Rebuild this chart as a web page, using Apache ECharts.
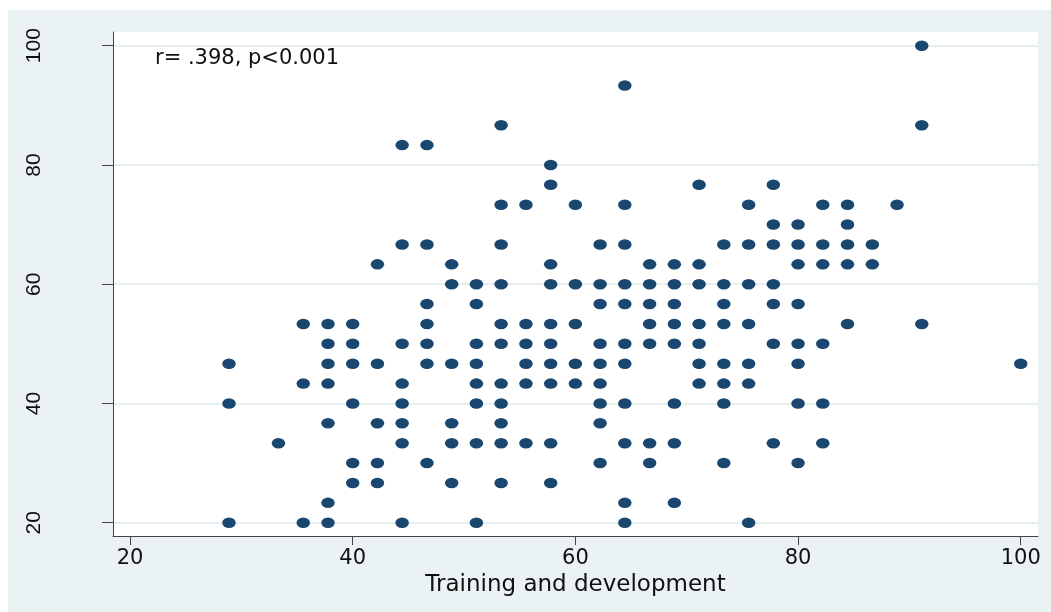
<!DOCTYPE html>
<html>
<head>
<meta charset="utf-8">
<script src="https://cdn.jsdelivr.net/npm/echarts@6/dist/echarts.min.js"></script>
<style>
  html, body { margin: 0; padding: 0; background: #ffffff; }
  #chart { position: absolute; left: 8px; top: 10px; width: 1043px; height: 602px; }
</style>
</head>
<body>
<div id="chart"></div>
<script>
// x: Training and development, y: outcome score (one line per x level)
const training = [
  28.89, 28.89, 28.89,
  33.33,
  35.56, 35.56, 35.56,
  37.78, 37.78, 37.78, 37.78, 37.78, 37.78, 37.78,
  40, 40, 40, 40, 40, 40,
  42.22, 42.22, 42.22, 42.22, 42.22,
  44.44, 44.44, 44.44, 44.44, 44.44, 44.44, 44.44, 44.44,
  46.67, 46.67, 46.67, 46.67, 46.67, 46.67, 46.67,
  48.89, 48.89, 48.89, 48.89, 48.89, 48.89,
  51.11, 51.11, 51.11, 51.11, 51.11, 51.11, 51.11, 51.11,
  53.33, 53.33, 53.33, 53.33, 53.33, 53.33, 53.33, 53.33, 53.33, 53.33, 53.33,
  55.56, 55.56, 55.56, 55.56, 55.56, 55.56,
  57.78, 57.78, 57.78, 57.78, 57.78, 57.78, 57.78, 57.78, 57.78, 57.78,
  60, 60, 60, 60, 60,
  62.22, 62.22, 62.22, 62.22, 62.22, 62.22, 62.22, 62.22, 62.22,
  64.44, 64.44, 64.44, 64.44, 64.44, 64.44, 64.44, 64.44, 64.44, 64.44, 64.44,
  66.67, 66.67, 66.67, 66.67, 66.67, 66.67, 66.67,
  68.89, 68.89, 68.89, 68.89, 68.89, 68.89, 68.89, 68.89,
  71.11, 71.11, 71.11, 71.11, 71.11, 71.11, 71.11,
  73.33, 73.33, 73.33, 73.33, 73.33, 73.33, 73.33, 73.33,
  75.56, 75.56, 75.56, 75.56, 75.56, 75.56, 75.56,
  77.78, 77.78, 77.78, 77.78, 77.78, 77.78, 77.78,
  80, 80, 80, 80, 80, 80, 80, 80,
  82.22, 82.22, 82.22, 82.22, 82.22, 82.22,
  84.44, 84.44, 84.44, 84.44, 84.44,
  86.67, 86.67,
  88.89,
  91.11, 91.11, 91.11,
  100
];
const outcome = [
  46.67, 40, 20,
  33.33,
  53.33, 43.33, 20,
  53.33, 50, 46.67, 43.33, 36.67, 23.33, 20,
  53.33, 50, 46.67, 40, 30, 26.67,
  63.33, 46.67, 36.67, 30, 26.67,
  83.33, 66.67, 50, 43.33, 40, 36.67, 33.33, 20,
  83.33, 66.67, 56.67, 53.33, 50, 46.67, 30,
  63.33, 60, 46.67, 36.67, 33.33, 26.67,
  60, 56.67, 50, 46.67, 43.33, 40, 33.33, 20,
  86.67, 73.33, 66.67, 60, 53.33, 50, 43.33, 40, 36.67, 33.33, 26.67,
  73.33, 53.33, 50, 46.67, 43.33, 33.33,
  80, 76.67, 63.33, 60, 53.33, 50, 46.67, 43.33, 33.33, 26.67,
  73.33, 60, 53.33, 46.67, 43.33,
  66.67, 60, 56.67, 50, 46.67, 43.33, 40, 36.67, 30,
  93.33, 73.33, 66.67, 60, 56.67, 50, 46.67, 40, 33.33, 23.33, 20,
  63.33, 60, 56.67, 53.33, 50, 33.33, 30,
  63.33, 60, 56.67, 53.33, 50, 40, 33.33, 23.33,
  76.67, 63.33, 60, 53.33, 50, 46.67, 43.33,
  66.67, 60, 56.67, 53.33, 46.67, 43.33, 40, 30,
  73.33, 66.67, 60, 53.33, 46.67, 43.33, 20,
  76.67, 70, 66.67, 60, 56.67, 50, 33.33,
  70, 66.67, 63.33, 56.67, 50, 46.67, 40, 30,
  73.33, 66.67, 63.33, 50, 40, 33.33,
  73.33, 70, 66.67, 63.33, 53.33,
  66.67, 63.33,
  73.33,
  100, 86.67, 53.33,
  46.67
];
const xTicks = [20, 40, 60, 80, 100];
const yTicks = [20, 40, 60, 80, 100];
const xTitle = 'Training and development';
const note = 'r= .398, p<0.001';

const points = training.map((x, i) => [x, outcome[i]]);

const chart = echarts.init(document.getElementById('chart'));
chart.setOption({
  backgroundColor: '#EAF2F3',
  animation: false,
  title: {
    text: note,
    left: 147,
    top: 38,
    padding: 0,
    textStyle: { fontFamily: 'DejaVu Sans', fontSize: 21, fontWeight: 'normal', color: '#111' }
  },
  grid: {
    left: 105, top: 22, right: 13, bottom: 76,
    show: true, backgroundColor: '#ffffff', borderWidth: 0
  },
  xAxis: {
    type: 'value',
    min: 18.47, max: 101.55,
    name: xTitle,
    nameLocation: 'middle',
    nameGap: 33,
    nameTextStyle: { fontFamily: 'DejaVu Sans', fontSize: 23, color: '#111' },
    axisLine: { show: true, onZero: false, lineStyle: { color: '#444', width: 1 } },
    axisTick: { show: true, length: 9, customValues: xTicks, lineStyle: { color: '#444' } },
    axisLabel: { customValues: xTicks, margin: 12, fontFamily: 'DejaVu Sans', fontSize: 21, color: '#111' },
    splitLine: { show: false }
  },
  yAxis: {
    type: 'value',
    min: 17.77, max: 102.3,
    axisLine: { show: true, onZero: false, lineStyle: { color: '#444', width: 1 } },
    axisTick: { show: true, length: 11, customValues: yTicks, lineStyle: { color: '#444' } },
    axisLabel: { customValues: yTicks, rotate: 90, margin: 68, fontFamily: 'Liberation Sans', fontSize: 21, color: '#111' },
    splitLine: { show: true, lineStyle: { color: '#E6EEF0', width: 2 } }
  },
  series: [{
    type: 'scatter',
    data: points,
    symbol: 'path://M0,1A1,1 0 1,0 2,1A1,1 0 1,0 0,1Z',
    symbolSize: [13.5, 10.5],
    itemStyle: { color: '#1A476F', opacity: 1 },
    clip: false
  }]
});
</script>
</body>
</html>
